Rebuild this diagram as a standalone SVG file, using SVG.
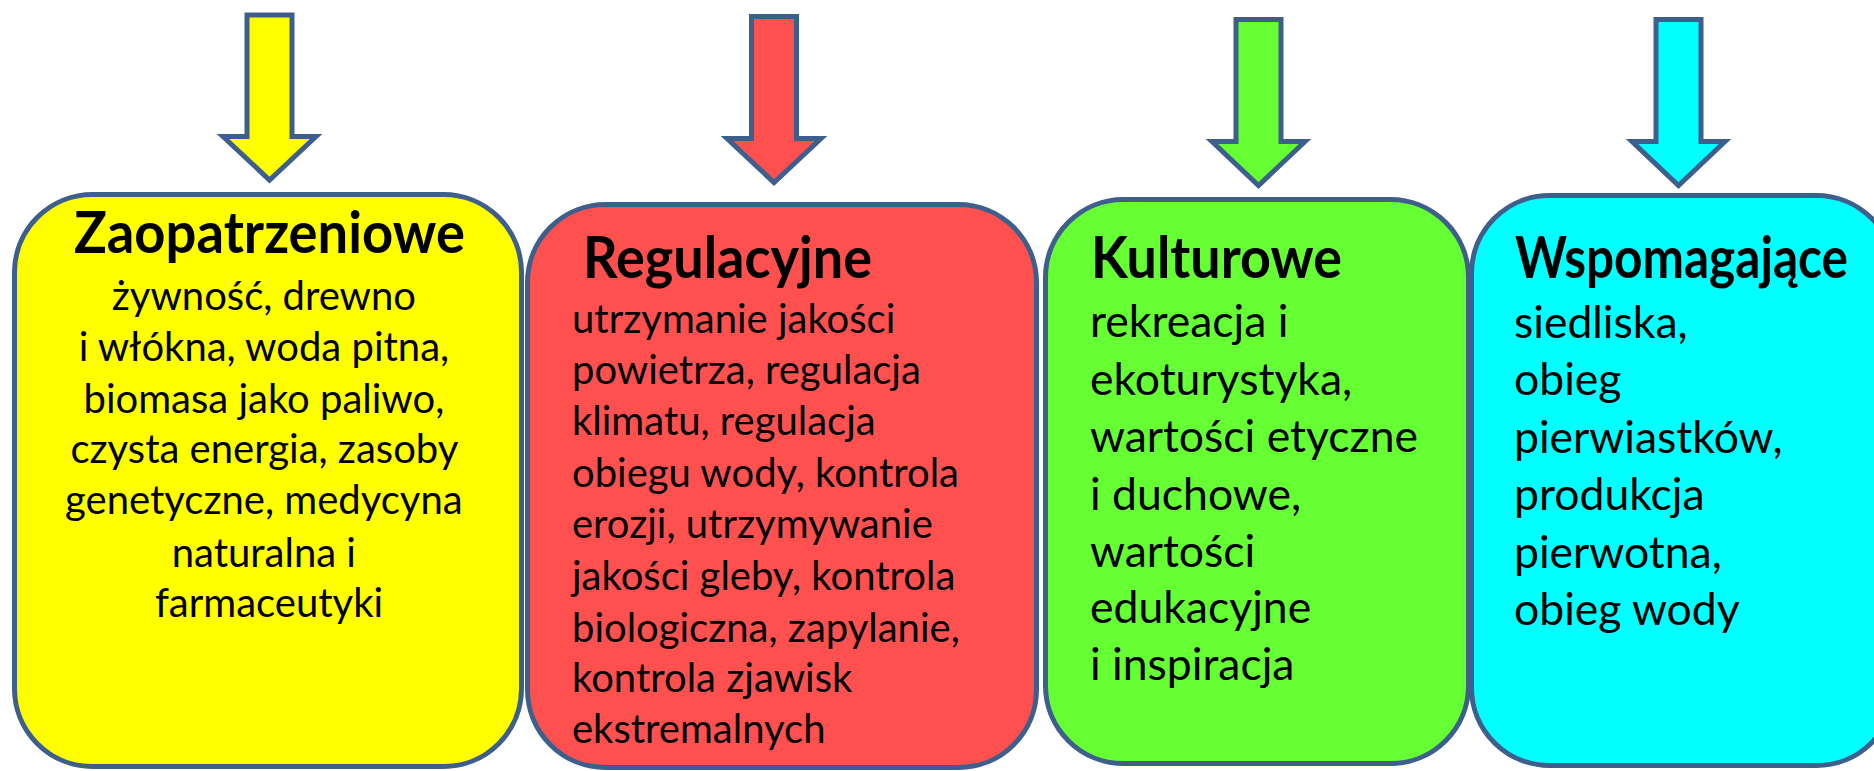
<svg xmlns="http://www.w3.org/2000/svg" width="1874" height="771" viewBox="0 0 1874 771">
<style>
.box{stroke:#3E5F8C;stroke-width:5}
.arr{stroke:#3E5F8C;stroke-width:5;stroke-linejoin:miter;stroke-miterlimit:10}
.t{font-family:Lato,"Open Sans",sans-serif;font-weight:bold;font-size:57px;fill:#000}
.b{font-family:Lato,"Open Sans",sans-serif;font-size:40px;fill:#000}
.b2{font-family:Lato,"Open Sans",sans-serif;font-size:44.5px;fill:#000}
</style>
<rect width="1874" height="771" fill="#fff"/>
<g id="connectors">
<polygon class="arr" fill="#FFFF00" points="247,15 292,15 292,136.5 316,136.5 269.5,180 223,136.5 247,136.5"/>
<polygon class="arr" fill="#FF5050" points="751.5,16.5 796.5,16.5 796.5,138.5 821,138.5 774,182.5 727,138.5 751.5,138.5"/>
<polygon class="arr" fill="#66FF33" points="1236,19.5 1281,19.5 1281,141.5 1305,141.5 1258.5,185.5 1212,141.5 1236,141.5"/>
<polygon class="arr" fill="#00FFFF" points="1656,19.5 1701,19.5 1701,141.5 1725,141.5 1678.5,185.5 1632,141.5 1656,141.5"/>
</g>
<g id="zaopatrzeniowe">
<rect class="box" fill="#FFFF00" x="14.5" y="194.5" width="507" height="572" rx="78" ry="78"/>
<text class="t" x="269.5" y="253" text-anchor="middle" textLength="391" lengthAdjust="spacingAndGlyphs">Zaopatrzeniowe</text>
<text class="b" text-anchor="middle">
<tspan x="269" y="310">żywność, drewno</tspan>
<tspan x="269" y="361">i włókna, woda pitna,</tspan>
<tspan x="269" y="413">biomasa jako paliwo,</tspan>
<tspan x="269" y="463">czysta energia, zasoby</tspan>
<tspan x="269" y="514">genetyczne, medycyna</tspan>
<tspan x="269" y="567">naturalna i</tspan>
<tspan x="269" y="617">farmaceutyki</tspan>
</text>
</g>
<g id="regulacyjne">
<rect class="box" fill="#FF5050" x="527.5" y="204.5" width="509" height="563" rx="78" ry="78"/>
<text class="t" x="583" y="278" textLength="289" lengthAdjust="spacingAndGlyphs">Regulacyjne</text>
<text class="b">
<tspan x="572" y="333">utrzymanie jakości</tspan>
<tspan x="572" y="384">powietrza, regulacja</tspan>
<tspan x="572" y="435">klimatu, regulacja</tspan>
<tspan x="572" y="487">obiegu wody, kontrola</tspan>
<tspan x="572" y="538">erozji, utrzymywanie</tspan>
<tspan x="572" y="590">jakości gleby, kontrola</tspan>
<tspan x="572" y="642">biologiczna, zapylanie,</tspan>
<tspan x="572" y="692">kontrola zjawisk</tspan>
<tspan x="572" y="743">ekstremalnych</tspan>
</text>
</g>
<g id="kulturowe">
<rect class="box" fill="#66FF33" x="1045.5" y="199.5" width="423" height="564" rx="78" ry="78"/>
<text class="t" x="1091" y="278" textLength="251" lengthAdjust="spacingAndGlyphs">Kulturowe</text>
<text class="b2">
<tspan x="1090" y="337">rekreacja i</tspan>
<tspan x="1090" y="395">ekoturystyka,</tspan>
<tspan x="1090" y="452">wartości etyczne</tspan>
<tspan x="1090" y="510">i duchowe,</tspan>
<tspan x="1090" y="567">wartości</tspan>
<tspan x="1090" y="623">edukacyjne</tspan>
<tspan x="1090" y="680">i inspiracja</tspan>
</text>
</g>
<g id="wspomagajace">
<rect class="box" fill="#00FFFF" x="1471.5" y="195.5" width="423" height="570" rx="78" ry="78"/>
<text class="t" x="1515" y="278" textLength="333" lengthAdjust="spacingAndGlyphs">Wspomagające</text>
<text class="b2">
<tspan x="1514" y="338">siedliska,</tspan>
<tspan x="1514" y="395">obieg</tspan>
<tspan x="1514" y="453">pierwiastków,</tspan>
<tspan x="1514" y="510">produkcja</tspan>
<tspan x="1514" y="568">pierwotna,</tspan>
<tspan x="1514" y="625">obieg wody</tspan>
</text>
</g>
</svg>
